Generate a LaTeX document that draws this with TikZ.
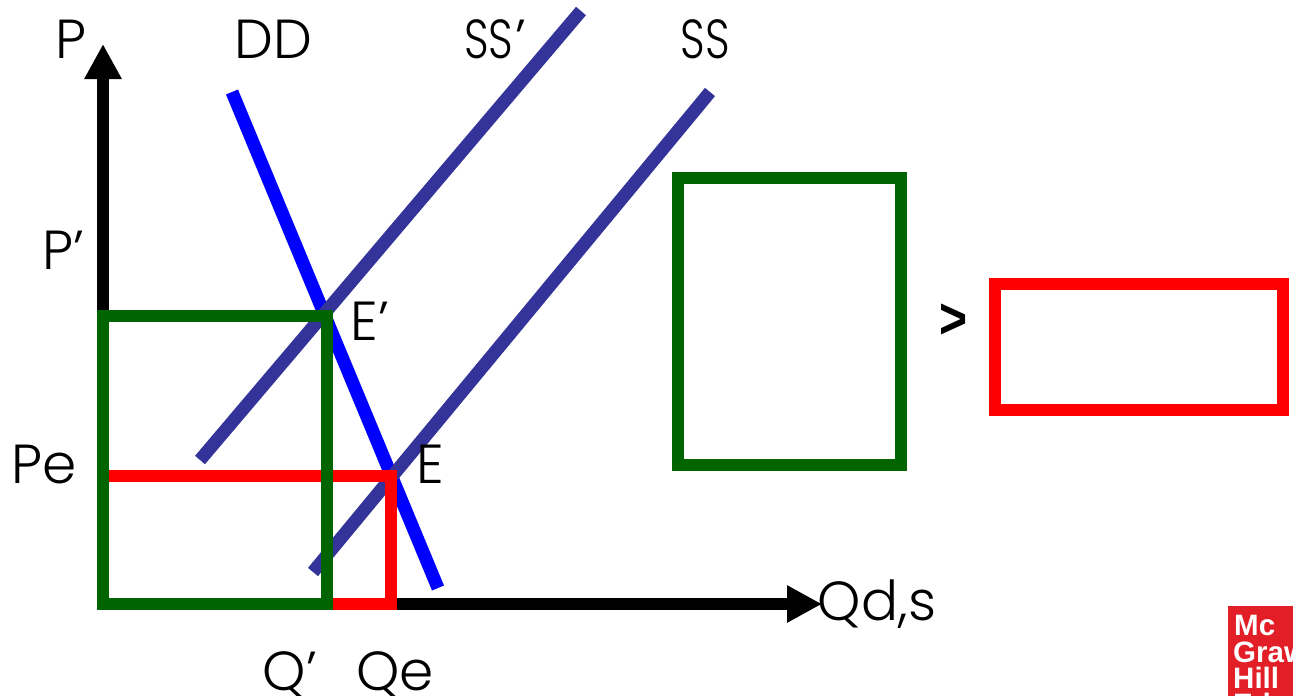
\documentclass[tikz,border=0pt]{standalone}
\usepackage{graphicx}
\usepackage{fontspec}
\setmainfont{Poppins}[UprightFont=* Light]
\newfontfamily\logofont{Liberation Sans}
\usetikzlibrary{arrows.meta}
\definecolor{dkgreen}{RGB}{0,100,0}
\definecolor{ssblue}{RGB}{51,51,153}
\definecolor{ddblue}{RGB}{0,0,255}
\definecolor{logored}{RGB}{226,31,38}
\newcommand{\narrowss}{\scalebox{.78}[1]{SS}}
\tikzset{
  lbl/.style={font=\fontsize{55}{55}\selectfont, inner sep=0pt, text=black},
  axisline/.style={line width=12pt, black, -{Triangle[length=35pt,width=35pt]}},
  supply/.style={line width=13pt, ssblue},
  demand/.style={line width=13pt, ddblue},
  greenbox/.style={line width=12pt, dkgreen, line join=miter},
  redbox/.style={line width=12pt, red, line join=miter},
  logotxt/.style={font=\logofont\bfseries\fontsize{29.5}{29.5}\selectfont, text=white, inner sep=0pt, anchor=base west},
}
\begin{document}
\begin{tikzpicture}[x=1pt,y=-1pt]
\useasboundingbox (0,0) rectangle (1293,696);
\coordinate (o) at (103,604);
\coordinate (ytip) at (103,44);
\coordinate (xtip) at (822,604);
\coordinate (s1a) at (200,460);
\coordinate (s1b) at (581,11);
\coordinate (s2a) at (313,572);
\coordinate (s2b) at (710,92);
\coordinate (da) at (232,92);
\coordinate (db) at (438,588);
\coordinate (rl) at (109,476);
\coordinate (rc) at (391,476);
\coordinate (rb) at (391,604);
\coordinate (rg) at (333,604);
\draw[axisline] (o) -- (ytip);
\draw[axisline] (o) -- (xtip);
\draw[demand] (da) -- (db);
\draw[supply] (s1a) -- (s1b);
\draw[supply] (s2a) -- (s2b);
\draw[redbox] (rl) -- (rc) -- (rb) -- (rg);
\draw[greenbox] (103,316) rectangle (327,604);
\draw[greenbox] (678,178) rectangle (901,465);
\draw[redbox] (995,284) rectangle (1283,410);
\node[lbl] (p) at (71,39) {P};
\node[lbl] (dd) at (273,39) {DD};
\node[lbl] (ss1) at (495,39) {\narrowss\kern2pt’};
\node[lbl] (ss) at (705,39) {\narrowss};
\node[lbl] (p1) at (63,250) {P’};
\node[lbl] (e1) at (370,321) {E’};
\node[lbl] (pe) at (44,464) {Pe};
\node[lbl] (e) at (430,464) {E};
\node[lbl] (qds) at (877,604) {Qd,s};
\node[lbl] (q1) at (290,675) {Q’};
\node[lbl] (qe) at (395,675) {Qe};
\node[font=\logofont\bfseries\fontsize{48}{48}\selectfont, inner sep=0pt] (gt) at (954,321) {\scalebox{1}[1.2]{>}};
\begin{scope}
\clip (1228,606) rectangle (1293,696);
\fill[logored] (1228,606) rectangle (1293,696);
\node[logotxt] (m1) at (1234,635) {Mc};
\node[logotxt] (m2) at (1233,662) {Graw};
\node[logotxt] (m3) at (1233,688) {Hill};
\node[logotxt] (m4) at (1233,714) {Education};
\end{scope}
\end{tikzpicture}
\end{document}
